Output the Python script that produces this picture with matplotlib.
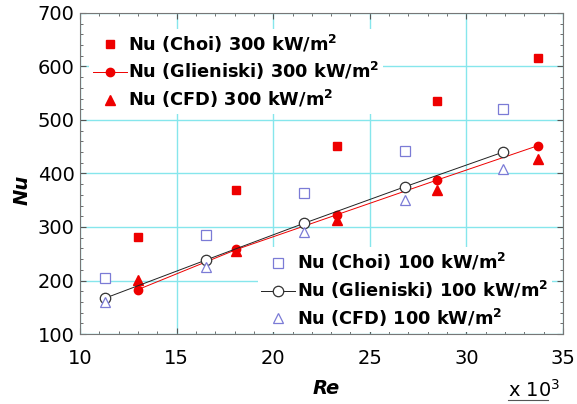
import matplotlib
matplotlib.use("Agg")
import matplotlib.pyplot as plt
from matplotlib.ticker import MultipleLocator

plt.rcParams['font.family'] = ['DejaVu Sans']
plt.rcParams['mathtext.fontset'] = 'dejavusans'

# Re (x 10^3)
re_300 = [13.0, 18.1, 23.3, 28.5, 33.7]
re_100 = [11.3, 16.5, 21.6, 26.8, 31.9]

nu_choi_300 = [281, 369, 451, 536, 616]
nu_glien_300 = [183, 258, 323, 388, 452]
nu_cfd_300 = [201, 255, 313, 369, 427]

nu_choi_100 = [205, 285, 364, 442, 521]
nu_glien_100 = [167, 238, 307, 375, 440]
nu_cfd_100 = [160, 226, 291, 350, 408]

red = '#ee0000'
blue = '#7b7bd6'

fig = plt.figure(figsize=(5.77, 4.04), dpi=100)
ax = fig.add_axes([80/577, 1-334/404, 483/577, 321/404])

h1, = ax.plot(re_300, nu_choi_300, 's', color=red, ms=6, ls='none', label=r'Nu (Choi) 300 kW/m$^\mathbf{2}$')
h2, = ax.plot(re_300, nu_glien_300, 'o-', color=red, ms=6, lw=0.7, label=r'Nu (Glieniski) 300 kW/m$^\mathbf{2}$')
h3, = ax.plot(re_300, nu_cfd_300, '^', color=red, ms=6.5, ls='none', label=r'Nu (CFD) 300 kW/m$^\mathbf{2}$')

h4, = ax.plot(re_100, nu_choi_100, 's', mfc='white', mec=blue, ms=6.5, mew=0.9, ls='none', label=r'Nu (Choi) 100 kW/m$^\mathbf{2}$')
h5, = ax.plot(re_100, nu_glien_100, 'o-', color='#222222', mfc='white', mec='#333333', ms=7.5, mew=0.9, lw=0.7, label=r'Nu (Glieniski) 100 kW/m$^\mathbf{2}$')
h6, = ax.plot(re_100, nu_cfd_100, '^', mfc='white', mec=blue, ms=7, mew=0.9, ls='none', label=r'Nu (CFD) 100 kW/m$^\mathbf{2}$')

ax.set_xlim(10, 35)
ax.set_ylim(100, 700)
ax.xaxis.set_major_locator(MultipleLocator(5))
ax.xaxis.set_minor_locator(MultipleLocator(1))
ax.yaxis.set_major_locator(MultipleLocator(100))
ax.yaxis.set_minor_locator(MultipleLocator(20))
ax.grid(True, which='major', color='#86e6ec', lw=1)
ax.set_axisbelow(True)
ax.tick_params(which='both', direction='in', top=True, right=True, color='#555555')
ax.tick_params(which='major', length=4, labelsize=14)
ax.tick_params(axis='x', which='major', pad=11)
ax.tick_params(axis='y', which='major', pad=4)
ax.tick_params(which='minor', length=2.5)
for s in ax.spines.values():
    s.set_color('#777777')

ax.set_xlabel('Re', fontsize=14, fontweight='bold', style='italic')
ax.set_ylabel('Nu', fontsize=14, fontweight='bold', style='italic')
ax.xaxis.set_label_coords((326-80)/483, -(388-334)/321)
ax.yaxis.set_label_coords((22-80)/483, 0.45)
ax.xaxis.label.set_va('center')
ax.yaxis.label.set_va('center')

legprops = dict(prop={'size': 12.8, 'weight': 'bold'}, frameon=True, facecolor='white',
                edgecolor='none', framealpha=1, handlelength=1.9, handletextpad=0.1,
                labelspacing=0.32, borderpad=0.2, borderaxespad=0, fancybox=False)
leg1 = ax.legend(handles=[h1, h2, h3], loc='upper left', bbox_to_anchor=(0.019, 0.95), **legprops)
ax.add_artist(leg1)
leg2 = ax.legend(handles=[h4, h5, h6], loc='lower right', bbox_to_anchor=(0.977, 0.006), **legprops)

fig.text(508/577, 1-390/404, r'x 10$^3$', fontsize=14, ha='left', va='center')
fig.add_artist(plt.Line2D([508/577, 548/577], [1-400/404, 1-400/404], color='#555555', lw=0.8))

fig.savefig('out.png', dpi=100)
